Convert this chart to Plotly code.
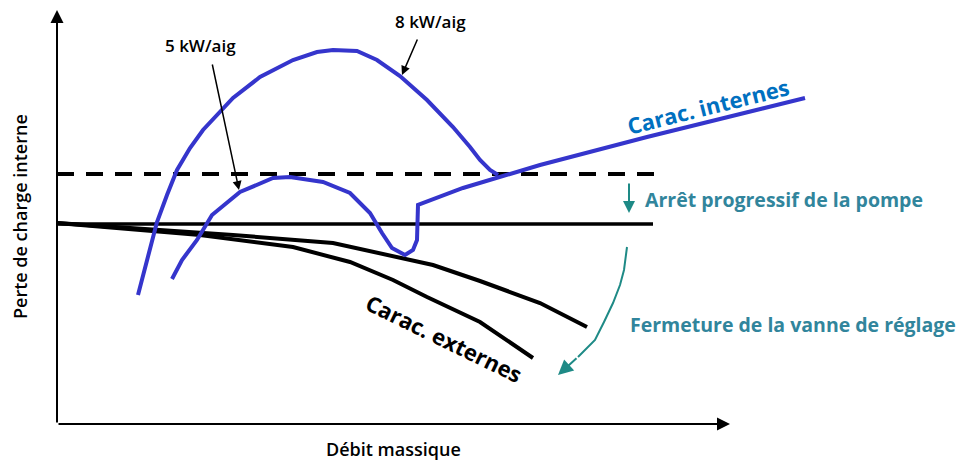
import plotly.graph_objects as go

# Pump internal characteristics (pressure loss vs. mass flow), arbitrary units
flow_8kw = [81, 90, 100, 110, 120, 133, 146, 176, 203, 236, 260, 276, 300, 320, 343, 370, 396, 413, 423, 433, 441]
loss_8kw = [129, 162, 202, 229, 254, 276, 294, 326, 347, 364, 372, 374, 373, 364, 348, 324, 297, 277, 264, 254, 249]

flow_5kw = [115, 125, 140, 155, 183, 216, 233, 266, 293, 313, 325, 335, 348, 356, 360, 361, 361, 406, 443, 483, 590, 748]
loss_5kw = [145, 164, 184, 209, 232, 246, 247, 242, 231, 211, 191, 176, 169, 174, 184, 204, 219, 236, 247, 259, 287, 326]

# External (circuit) characteristics
flow_ext_a = [0, 76, 176, 276, 376, 423, 483, 530]
loss_ext_a = [201, 196, 189, 181, 159, 143, 121, 97]
flow_ext_b = [0, 73, 143, 236, 293, 336, 370, 423, 476]
loss_ext_b = [201, 195, 189, 177, 162, 144, 127, 102, 66]

# Reference levels
flow_levels = [0, 598]
loss_dashed = [250, 250]
flow_solid = [0, 596]
loss_solid = [200, 200]

# Valve-closing trend curve
flow_valve = [570, 567, 563, 556, 547, 538, 521]
loss_valve = [177, 154, 139, 121, 102, 84, 67]

BLUE = "#3535CC"
TEAL_TXT = "#31859C"
TEAL_ARR = "#1E8A86"
FONT = "Open Sans"

fig = go.Figure()

fig.add_trace(go.Scatter(x=flow_levels, y=loss_dashed, mode="lines",
                         line=dict(color="black", width=4, dash="17px,12px")))
fig.add_trace(go.Scatter(x=flow_solid, y=loss_solid, mode="lines",
                         line=dict(color="black", width=3.5)))
fig.add_trace(go.Scatter(x=flow_ext_a, y=loss_ext_a, mode="lines",
                         line=dict(color="black", width=4)))
fig.add_trace(go.Scatter(x=flow_ext_b, y=loss_ext_b, mode="lines",
                         line=dict(color="black", width=4)))
fig.add_trace(go.Scatter(x=flow_8kw, y=loss_8kw, mode="lines",
                         line=dict(color=BLUE, width=4)))
fig.add_trace(go.Scatter(x=flow_5kw, y=loss_5kw, mode="lines",
                         line=dict(color=BLUE, width=4)))
fig.add_trace(go.Scatter(x=flow_valve, y=loss_valve, mode="lines",
                         line=dict(color=TEAL_ARR, width=2)))

annotations = []


def arrow(x0, y0, x1, y1, color, width, head=2, size=1.0):
    annotations.append(dict(x=x1, y=y1, ax=x0, ay=y0, xref="x", yref="y",
                            axref="x", ayref="y", text="", showarrow=True,
                            arrowhead=head, arrowsize=size, arrowwidth=width,
                            arrowcolor=color, standoff=0, startstandoff=0))


def label(x, y, text, color, size, weight=600, angle=0, xanchor="center"):
    annotations.append(dict(x=x, y=y, xref="x", yref="y", text=text,
                            showarrow=False, textangle=angle, xanchor=xanchor,
                            yanchor="middle",
                            font=dict(family=FONT, size=size, color=color,
                                      weight=weight)))


# Axes with arrowheads
arrow(0, 0, 0, 414, "black", 2, head=2, size=1.3)
arrow(0, 0, 673, 0, "black", 2, head=2, size=1.3)

# Callouts
arrow(361, 386, 345, 349, "black", 1.5, head=2, size=1.2)
arrow(155, 361, 182, 234, "black", 1.5, head=2, size=1.2)
arrow(572, 242, 572, 211, TEAL_ARR, 2, head=2, size=1.2)
arrow(521, 67, 501, 49, TEAL_ARR, 2, head=2, size=1.5)

label(373, 403, "8 kW/aig", "black", 17)
label(143, 379, "5 kW/aig", "black", 17)
label(651, 318, "Carac. internes", "#0070C0", 22, weight=700, angle=-14)
label(387, 86, "Carac. externes", "black", 22, weight=700, angle=26)
label(586, 225, "Arrêt progressif de la pompe", TEAL_TXT, 19.5, weight=700, xanchor="left")
label(571, 100, "Fermeture de la vanne de réglage", TEAL_TXT, 19.5, weight=700, xanchor="left")
label(-37, 207, "Perte de charge interne", "black", 18, angle=-90)
label(336, -25, "Débit massique", "black", 18)

fig.update_layout(
    width=957, height=461,
    margin=dict(l=0, r=0, t=0, b=0),
    paper_bgcolor="white", plot_bgcolor="white",
    showlegend=False,
    xaxis=dict(range=[-57, 900], visible=False, fixedrange=True),
    yaxis=dict(range=[-37, 424], visible=False, fixedrange=True),
    annotations=annotations,
)

fig.write_html("out.html", config={"displayModeBar": False})
